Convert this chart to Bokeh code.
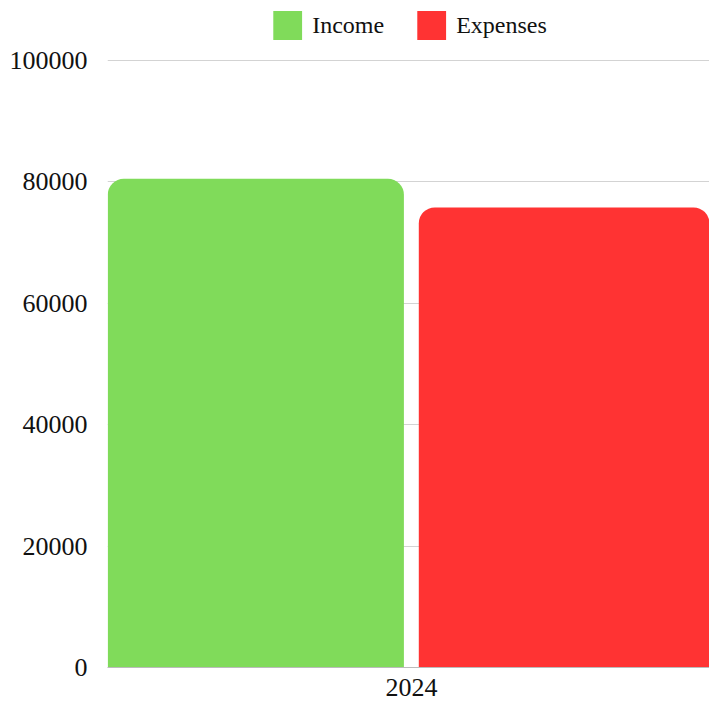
from bokeh.plotting import figure
from bokeh.models import (Range1d, FixedTicker, NumeralTickFormatter, Legend,
                          LegendItem, ColumnDataSource)
from bokeh.embed import file_html
from bokeh.resources import INLINE

# ---- data ----
categories = ["2024"]
income = [80500]
expenses = [75800]
y_ticks = [0, 20000, 40000, 60000, 80000, 100000]
series_names = ["Income", "Expenses"]
series_colors = ["#80DB5A", "#FF3333"]

# ---- style / layout constants ----
FONT = "Liberation Serif"
W, H = 709, 705
LEFT, TOP, BOTTOM = 107, 0, 38
FRAME_W = W - LEFT
FRAME_H = H - TOP - BOTTOM
CAT_PX = 608            # pixel width of one category in the reference
AXIS_PX = 607           # pixel height of the 0..max tick span in the reference
BAR_W = 0.487
OFFSETS = [-0.256, 0.2555]

centers = [i + 0.5 for i in range(len(categories))]

p = figure(width=W, height=H, output_backend="svg", toolbar_location=None,
           x_range=Range1d(0, FRAME_W / CAT_PX),
           y_range=Range1d(0, y_ticks[-1] * FRAME_H / AXIS_PX),
           min_border_left=LEFT, min_border_right=0, min_border_top=TOP,
           min_border_bottom=BOTTOM, outline_line_color=None,
           background_fill_color="white", border_fill_color="white")

renderers = []
for vals, off, col in zip([income, expenses], OFFSETS, series_colors):
    src = ColumnDataSource(dict(x=[c + off for c in centers], top=vals))
    r = p.vbar(x="x", top="top", bottom=0, width=BAR_W, source=src,
               fill_color=col, line_color=None, border_radius=(16, 16, 0, 0))
    renderers.append(r)

# axes
p.xaxis.ticker = FixedTicker(ticks=centers)
p.xaxis.major_label_overrides = {c: cat for c, cat in zip(centers, categories)}
p.xaxis.major_tick_line_color = None
p.xaxis.minor_tick_line_color = None
p.xaxis.axis_line_color = "#bbbbbb"
p.xaxis.major_label_standoff = 5
p.xaxis.major_label_text_font = FONT
p.xaxis.major_label_text_font_size = "26px"
p.xaxis.major_label_text_color = "#111111"

p.yaxis.ticker = FixedTicker(ticks=y_ticks)
p.yaxis.formatter = NumeralTickFormatter(format="0")
p.yaxis.axis_line_color = None
p.yaxis.major_tick_line_color = None
p.yaxis.minor_tick_line_color = None
p.yaxis.major_label_standoff = 14
p.yaxis.major_label_text_font = FONT
p.yaxis.major_label_text_font_size = "26px"
p.yaxis.major_label_text_color = "#111111"

p.xgrid.grid_line_color = None
p.ygrid.grid_line_color = "#d3d3d3"
p.ygrid.grid_line_width = 1

legend = Legend(items=[LegendItem(label=n, renderers=[r]) for n, r in zip(series_names, renderers)],
                orientation="horizontal", location="top_center",
                glyph_width=36, glyph_height=36, label_standoff=7, spacing=29,
                padding=0, margin=7, border_line_color=None,
                background_fill_alpha=0,
                label_text_font=FONT, label_text_font_size="24px",
                label_text_color="#111111")
p.add_layout(legend, "center")

open("out.html", "w").write(file_html(p, INLINE))
